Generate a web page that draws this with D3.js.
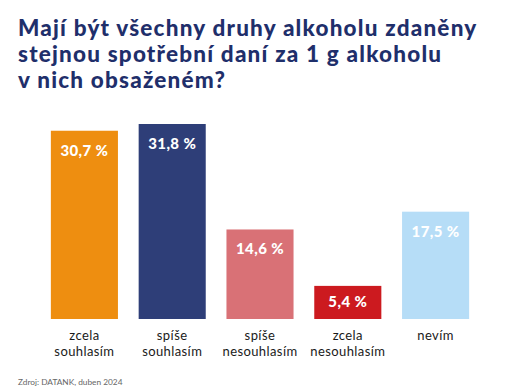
<!DOCTYPE html>
<html>
<head>
<meta charset="utf-8">
<script src="https://cdn.jsdelivr.net/npm/d3@7"></script>
<style>
  body { margin: 0; background: #fff; }
  svg { display: block; }
</style>
</head>
<body>
<svg id="chart" width="524" height="390"></svg>
<script>
// Data
const categories = [
    ["zcela", "souhlasím"],
    ["spíše", "souhlasím"],
    ["spíše", "nesouhlasím"],
    ["zcela", "nesouhlasím"],
    ["nevím"]
];
const values = [30.7, 31.8, 14.6, 5.4, 17.5];
const valueLabels = ["30,7 %", "31,8 %", "14,6 %", "5,4 %", "17,5 %"];
const barColors = ["#ee8e10", "#2e3e78", "#d97176", "#cc1a1f", "#b6ddf7"];
const titleLines = [
    "Mají být všechny druhy alkoholu zdaněny",
    "stejnou spotřební daní za 1 g alkoholu",
    "v nich obsaženém?"
];
const sourceText = "Zdroj: DATANK, duben 2024";

const svg = d3.select("#chart");
const baseY = 319;

// Titulek
svg.append("g")
    .selectAll("text")
    .data(titleLines)
    .join("text")
    .attr("x", 18)
    .attr("y", (d, i) => 36 + i * 26)
    .style("font-family", "Lato")
    .style("font-weight", 900)
    .style("font-size", "22.5px")
    .style("letter-spacing", "1.2px")
    .style("fill", "#1f2f6b")
    .text(d => d);

// Échelles
const x = d3.scaleBand()
    .domain(d3.range(values.length))
    .range([40.5, 479.5])
    .paddingInner(0.236)
    .paddingOuter(0.118);

const y = d3.scaleLinear()
    .domain([0, 31.8])
    .range([baseY, 124]);

// Barres
svg.append("g")
    .selectAll("rect")
    .data(values)
    .join("rect")
    .attr("x", (d, i) => x(i))
    .attr("y", d => y(d))
    .attr("width", x.bandwidth())
    .attr("height", d => baseY - y(d))
    .attr("fill", (d, i) => barColors[i]);

// Valeurs
svg.append("g")
    .selectAll("text")
    .data(values)
    .join("text")
    .attr("x", (d, i) => x(i) + x.bandwidth() / 2)
    .attr("y", d => Math.min(y(d) + 25, (y(d) + baseY) / 2 + 5))
    .attr("text-anchor", "middle")
    .style("font-family", "Lato")
    .style("font-weight", 900)
    .style("font-size", "15px")
    .style("letter-spacing", "0.4px")
    .style("fill", "#fff")
    .text((d, i) => valueLabels[i]);

// Catégories (une ligne = un texte)
const catLines = categories.flatMap((lines, i) => lines.map((t, j) => ({ i, j, t })));
svg.append("g")
    .selectAll("text")
    .data(catLines)
    .join("text")
    .attr("x", d => x(d.i) + x.bandwidth() / 2)
    .attr("y", d => 340 + d.j * 15.5)
    .attr("text-anchor", "middle")
    .style("font-family", "Lato")
    .style("font-size", "13px")
    .style("letter-spacing", "0.4px")
    .style("fill", "#1a1a1a")
    .text(d => d.t);

// Source
svg.append("text")
    .attr("x", 18)
    .attr("y", 385)
    .style("font-family", "Lato")
    .style("font-size", "8.3px")
    .style("fill", "#666")
    .text(sourceText);
</script>
</body>
</html>
